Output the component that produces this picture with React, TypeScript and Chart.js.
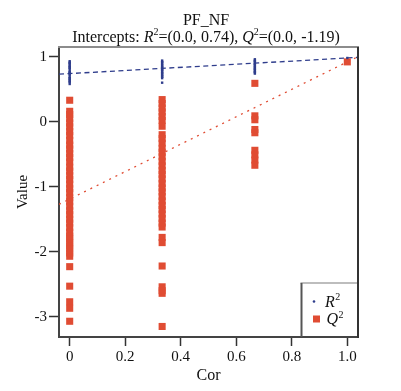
import React, { useEffect, useRef } from 'react';
import { Chart, registerables } from 'chart.js';

Chart.register(...registerables);

// ---- data ----
const TITLE = 'PF_NF';
const X_LABEL = 'Cor';
const Y_LABEL = 'Value';

// correlation of permuted y with original y (columns)
const X_COR = [0, 0.333, 0.667, 1];

// Q2 values of permuted models, per column
const Q2_AT_0 = [0.33, 0.16, 0.11, 0.05, -0.02, -0.08, -0.15, -0.21, -0.29, -0.36, -0.42, -0.49, -0.55, -0.62,
  -0.7, -0.76, -0.83, -0.89, -0.96, -1.03, -1.09, -1.17, -1.23, -1.3, -1.37, -1.43, -1.5, -1.56, -1.63, -1.7,
  -1.76, -1.8, -1.86, -1.91, -1.96, -2.02, -2.07, -2.23, -2.53, -2.77, -2.87, -3.07];
const Q2_AT_033 = [0.34, 0.28, 0.21, 0.15, 0.08, 0.02, -0.07, -0.2, -0.26, -0.33, -0.41, -0.47, -0.54, -0.61,
  -0.68, -0.75, -0.81, -0.88, -0.95, -1.02, -1.08, -1.15, -1.22, -1.29, -1.35, -1.42, -1.49, -1.56, -1.62,
  -1.78, -1.86, -2.22, -2.54, -2.6, -2.64, -3.15];
const Q2_AT_067 = [0.59, 0.09, 0.03, -0.12, -0.17, -0.44, -0.51, -0.59, -0.67];
const Q2_AT_1 = [0.92];

// R2 values of permuted models, per column
const R2_AT_0 = [0.93, 0.91, 0.9, 0.88, 0.86, 0.84, 0.83, 0.81, 0.78, 0.76, 0.75, 0.74, 0.72, 0.69, 0.67, 0.66, 0.64, 0.62, 0.61, 0.58];
const R2_AT_033 = [0.94, 0.92, 0.91, 0.89, 0.87, 0.85, 0.84, 0.82, 0.8, 0.79, 0.77, 0.75, 0.74, 0.72, 0.7, 0.69, 0.67, 0.6];
const R2_AT_067 = [0.96, 0.94, 0.93, 0.91, 0.89, 0.88, 0.86, 0.84, 0.82, 0.81, 0.79, 0.77, 0.76, 0.74];
const R2_AT_1 = [0.98];

// intercepts of the regression lines
const R2_INTERCEPT = 0.74;
const Q2_INTERCEPT = -1.19;
const R2_ORIGINAL = 0.98;
const Q2_ORIGINAL = 0.92;

const X_TICKS = [0, 0.2, 0.4, 0.6, 0.8, 1.0];
const X_TICK_LABELS = ['0', '0.2', '0.4', '0.6', '0.8', '1.0'];
const Y_TICKS = [1, 0, -1, -2, -3];
const Y_TICK_LABELS = ['1', '0', '-1', '-2', '-3'];

const X_MIN = -0.0385;
const X_MAX = 1.0385;
const Y_MIN = -3.312;
const Y_MAX = 1.149;

// ---- styles ----
const FONT = '"Liberation Serif", "Times New Roman", serif';
const RED = '#e04c33';
const NAVY = '#2f3d8c';

const Q2_COLUMNS = [Q2_AT_0, Q2_AT_033, Q2_AT_067, Q2_AT_1];
const R2_COLUMNS = [R2_AT_0, R2_AT_033, R2_AT_067, R2_AT_1];

const toPoints = (cols: number[][]) =>
  cols.flatMap((vals, i) => vals.map((v) => ({ x: X_COR[i], y: v })));

const linePoints = (intercept: number, orig: number) => [
  { x: X_MIN, y: intercept + (orig - intercept) * X_MIN },
  { x: X_MAX, y: intercept + (orig - intercept) * X_MAX },
];

const framePlugin = {
  id: 'frameAndLegend',
  afterDraw(chart: any) {
    const { ctx, chartArea: a } = chart;
    ctx.save();
    // legend box
    const left = a.right - 56.5;
    const top = a.bottom - 54;
    ctx.fillStyle = '#ffffff';
    ctx.fillRect(left, top, a.right - left, a.bottom - 1 - top);
    ctx.lineWidth = 2;
    ctx.strokeStyle = '#bdbdbd';
    ctx.beginPath();
    ctx.moveTo(left - 1, top);
    ctx.lineTo(a.right, top);
    ctx.stroke();
    ctx.strokeStyle = '#555555';
    ctx.beginPath();
    ctx.moveTo(left, top);
    ctx.lineTo(left, a.bottom);
    ctx.stroke();

    // R2 entry
    ctx.fillStyle = NAVY;
    ctx.beginPath();
    ctx.arc(left + 12.5, top + 18.5, 1.3, 0, Math.PI * 2);
    ctx.fill();
    ctx.fillStyle = '#111';
    ctx.textBaseline = 'alphabetic';
    ctx.textAlign = 'left';
    ctx.font = `italic 16px ${FONT}`;
    ctx.fillText('R', left + 23.5, top + 23.5);
    let w = ctx.measureText('R').width;
    ctx.font = `10px ${FONT}`;
    ctx.fillText('2', left + 23.5 + w + 0.5, top + 17);

    // Q2 entry
    ctx.fillStyle = RED;
    ctx.fillRect(left + 11.5, top + 32.5, 7, 7);
    ctx.fillStyle = '#111';
    ctx.font = `italic 16px ${FONT}`;
    ctx.fillText('Q', left + 25, top + 41);
    w = ctx.measureText('Q').width;
    ctx.font = `10px ${FONT}`;
    ctx.fillText('2', left + 25 + w + 0.5, top + 34.5);

    // top and right frame
    ctx.lineWidth = 2;
    ctx.strokeStyle = '#8c8c8c';
    ctx.beginPath();
    ctx.moveTo(a.left - 1, a.top);
    ctx.lineTo(a.right + 1, a.top);
    ctx.stroke();
    ctx.strokeStyle = '#333333';
    ctx.beginPath();
    ctx.moveTo(a.right, a.top);
    ctx.lineTo(a.right, a.bottom + 1);
    ctx.stroke();
    ctx.restore();
  },
};

export default function App() {
  const ref = useRef<HTMLCanvasElement>(null);

  useEffect(() => {
    if (!ref.current) return;
    const chart = new Chart(ref.current, {
      type: 'scatter',
      data: {
        datasets: [
          {
            label: 'R2',
            data: toPoints(R2_COLUMNS),
            backgroundColor: NAVY,
            borderWidth: 0,
            pointRadius: 1.7,
            pointStyle: 'rect',
            order: 0,
          },
          {
            label: 'Q2',
            data: toPoints(Q2_COLUMNS),
            backgroundColor: RED,
            borderWidth: 0,
            pointRadius: 5,
            pointStyle: 'rect',
            order: 1,
          },
          {
            label: 'R2 line',
            data: linePoints(R2_INTERCEPT, R2_ORIGINAL),
            showLine: true,
            borderColor: NAVY,
            borderWidth: 1.3,
            borderDash: [5, 3.5],
            pointRadius: 0,
            order: 2,
          },
          {
            label: 'Q2 line',
            data: linePoints(Q2_INTERCEPT, Q2_ORIGINAL),
            showLine: true,
            borderColor: RED,
            borderWidth: 1.3,
            borderDash: [2, 5],
            pointRadius: 0,
            order: 3,
          },
        ],
      },
      options: {
        responsive: false,
        animation: false,
        events: [],
        devicePixelRatio: 1,
        layout: { padding: { top: 47, right: 43, left: 0, bottom: 0 } },
        plugins: {
          legend: { display: false },
          title: { display: false },
          tooltip: { enabled: false },
        },
        scales: {
          x: {
            type: 'linear',
            min: X_MIN,
            max: X_MAX,
            afterBuildTicks: (scale: any) => {
              scale.ticks = X_TICKS.map((v) => ({ value: v }));
            },
            afterFit: (scale: any) => {
              scale.height = 54;
            },
            ticks: {
              callback: (_v: any, i: number) => X_TICK_LABELS[i],
              font: { family: FONT, size: 15 },
              color: '#111',
              padding: 2,
              maxRotation: 0,
              autoSkip: false,
            },
            grid: {
              display: true,
              drawOnChartArea: false,
              drawTicks: true,
              tickLength: 9,
              tickColor: '#333',
              tickWidth: 1.5,
            },
            border: { display: true, color: '#444', width: 2 },
            title: {
              display: true,
              text: X_LABEL,
              font: { family: FONT, size: 16 },
              color: '#111',
              padding: { top: 0, bottom: 6 },
            },
          },
          y: {
            type: 'linear',
            min: Y_MIN,
            max: Y_MAX,
            afterBuildTicks: (scale: any) => {
              scale.ticks = Y_TICKS.map((v) => ({ value: v }));
            },
            afterFit: (scale: any) => {
              scale.width = 59;
            },
            ticks: {
              callback: (_v: any, i: number) => Y_TICK_LABELS[i],
              font: { family: FONT, size: 15 },
              color: '#111',
              padding: 2,
              autoSkip: false,
            },
            grid: {
              display: true,
              drawOnChartArea: false,
              drawTicks: true,
              tickLength: 10,
              tickColor: '#333',
              tickWidth: 1.5,
            },
            border: { display: true, color: '#444', width: 2 },
            title: {
              display: true,
              text: Y_LABEL,
              font: { family: FONT, size: 15 },
              color: '#111',
              padding: { top: 14, bottom: 0 },
            },
          },
        },
      },
      plugins: [framePlugin],
    } as any);
    return () => chart.destroy();
  }, []);

  const sup: React.CSSProperties = { fontSize: 10, position: 'relative', top: -6.5, verticalAlign: 'baseline', lineHeight: 0 };

  return (
    <div style={{ position: 'fixed', left: 0, top: 0, width: 401, height: 391, background: '#fff' }}>
      <canvas ref={ref} width={401} height={391} style={{ display: 'block' }} />
      <div
        style={{
          position: 'absolute',
          left: 56,
          top: 12,
          width: 300,
          textAlign: 'center',
          fontFamily: FONT,
          fontSize: 16,
          lineHeight: '16.5px',
          color: '#111',
          whiteSpace: 'nowrap',
        }}
      >
        <div>{TITLE}</div>
        <div>
          Intercepts: <i>R</i>
          <span style={sup}>2</span>=(0.0, {R2_INTERCEPT.toFixed(2)}), <i>Q</i>
          <span style={sup}>2</span>=(0.0, {Q2_INTERCEPT.toFixed(2)})
        </div>
      </div>
    </div>
  );
}
